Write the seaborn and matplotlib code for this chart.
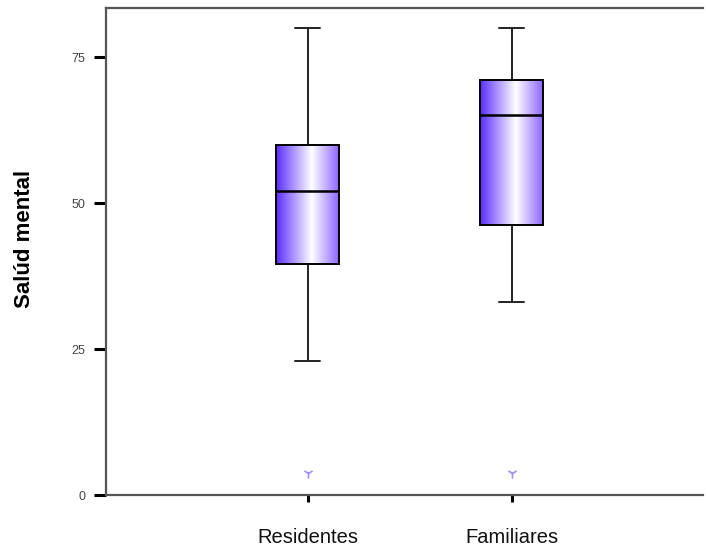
"""
Boxplot: Salúd mental by group (Residentes vs Familiares), SPSS-style gradient boxes.
"""

import matplotlib.pyplot as plt
import numpy as np
import pandas as pd
import seaborn as sns
from matplotlib.colors import LinearSegmentedColormap

# ==========================================
# DATA (five-number summaries)
# ==========================================
groups = ["Residentes", "Familiares"]
res_summary = [23, 39.5, 52, 60, 80]
fam_summary = [33, 46.3, 65, 71, 80]
extreme_groups = ["Residentes", "Familiares"]
extreme_values = [3.8, 3.8]
y_ticks = [0, 25, 50, 75]

BOX_W = 0.31


# ==========================================
# MAIN
# ==========================================
def main():
    df = pd.DataFrame({
        "grupo": [groups[0]] * len(res_summary) + [groups[1]] * len(fam_summary),
        "valor": res_summary + fam_summary,
    })
    df_ext = pd.DataFrame({"grupo": extreme_groups, "valor": extreme_values})

    sns.set_theme(style="white")
    plt.rcParams["font.family"] = ["Liberation Sans", "DejaVu Sans"]

    fig = plt.figure(figsize=(7.06, 5.5), dpi=100)
    ax = fig.add_axes([0.150, 0.10, 0.846, 0.8855])

    sns.boxplot(
        data=df, x="grupo", y="valor", order=groups,
        width=BOX_W, whis=1.5, color="#6a3dff", linecolor="black",
        linewidth=1.4, showfliers=False, ax=ax,
        medianprops=dict(color="black", linewidth=1.8),
        whiskerprops=dict(color="#222222", linewidth=1.4),
        capprops=dict(color="#222222", linewidth=1.4),
    )

    # shorten whisker caps a little (SPSS style)
    for ln in ax.lines:
        xd = np.asarray(ln.get_xdata(), dtype=float)
        yd = np.asarray(ln.get_ydata(), dtype=float)
        if len(xd) == 2 and yd[0] == yd[1]:
            span = abs(xd[1] - xd[0])
            if 0.05 < span < 0.9 * BOX_W:
                mid = xd.mean()
                ln.set_xdata([mid - 0.2 * BOX_W, mid + 0.2 * BOX_W])

    # gradient fill inside each box
    cmap = LinearSegmentedColormap.from_list(
        "spss", [(0.0, "#5b2cff"), (0.56, "#ffffff"), (1.0, "#8a60ff")]
    )
    grad = np.linspace(0, 1, 256).reshape(1, -1)
    for patch in list(ax.patches):
        ext = patch.get_path().get_extents()
        im = ax.imshow(
            grad, cmap=cmap, aspect="auto", interpolation="bicubic",
            extent=[ext.x0, ext.x1, ext.y0, ext.y1], zorder=1.5,
        )
        im.set_clip_path(patch)
        patch.set_facecolor("none")
        patch.set_zorder(2.2)

    # extreme values
    sns.scatterplot(
        data=df_ext, x="grupo", y="valor", marker="1", s=55,
        color="#a58cff", linewidth=1.2, legend=False, ax=ax, zorder=3,
    )

    ax.set_xlim(-0.99, 1.94)
    ax.set_ylim(0, 83.4)
    ax.set_yticks(y_ticks)
    ax.set_xlabel("")
    ax.set_ylabel("Salúd mental", fontsize=16, fontweight="bold", color="black")
    ax.yaxis.set_label_coords(-0.118, 0.526)

    ax.tick_params(axis="y", direction="out", length=9, width=2.2, color="black",
                   labelsize=9, labelcolor="#444444", pad=6, left=True)
    ax.tick_params(axis="x", direction="out", length=5, width=2.2, color="black",
                   labelsize=14.5, labelcolor="#111111", pad=19, bottom=True)
    for lbl in ax.get_xticklabels():
        lbl.set_horizontalalignment("center")

    ax.spines["right"].set_visible(False)
    for side in ["left", "top", "bottom"]:
        ax.spines[side].set_color("#555555")
        ax.spines[side].set_linewidth(1.6)

    fig.savefig("out.png", dpi=100)
    plt.close(fig)


if __name__ == "__main__":
    main()
